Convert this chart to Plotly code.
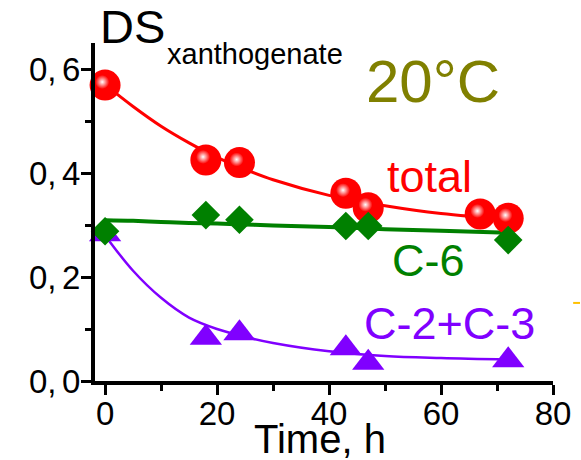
import plotly.graph_objects as go

# ---- data ----
t_total = [0, 18, 24, 43, 47, 67, 72]
ds_total = [0.569, 0.425, 0.420, 0.361, 0.333, 0.321, 0.313]

t_c6 = [0, 18, 24, 43, 47, 72]
ds_c6 = [0.288, 0.319, 0.310, 0.298, 0.298, 0.271]

t_c23 = [0, 18, 24, 43, 47, 72]
ds_c23 = [0.282, 0.083, 0.092, 0.063, 0.035, 0.040]

# fitted curves
fit_t = [0, 5, 10, 15, 20, 25, 30, 40, 50, 60, 72]
fit_total = [0.570, 0.528, 0.490, 0.458, 0.430, 0.407, 0.387, 0.357, 0.337, 0.322, 0.311]
fit_c6 = [0.309, 0.308, 0.306, 0.304, 0.303, 0.301, 0.299, 0.296, 0.292, 0.289, 0.285]
fit_c23 = [0.280, 0.212, 0.160, 0.122, 0.100, 0.085, 0.073, 0.057, 0.048, 0.044, 0.041]

x_ticks = [0, 20, 40, 60, 80]
y_ticks = [0.0, 0.2, 0.4, 0.6]

RED = "#FF0000"
GREEN = "#008000"
PURPLE = "#8000FF"
OLIVE = "#808000"
FONT = "Liberation Sans, Arial, sans-serif"

fig = go.Figure()

# curves
fig.add_trace(go.Scatter(x=fit_t, y=fit_total, mode="lines",
                         line=dict(color=RED, width=3, shape="spline"), hoverinfo="skip"))
fig.add_trace(go.Scatter(x=fit_t, y=fit_c6, mode="lines",
                         line=dict(color=GREEN, width=4, shape="spline"), hoverinfo="skip"))
fig.add_trace(go.Scatter(x=fit_t, y=fit_c23, mode="lines",
                         line=dict(color=PURPLE, width=2.5, shape="spline"), hoverinfo="skip"))

# total: red spheres
fig.add_trace(go.Scatter(x=t_total, y=ds_total, mode="markers", cliponaxis=False,
                         marker=dict(symbol="circle", size=31, color=RED, line=dict(width=0))))
# sphere highlights (small offset up-left)
fig.add_trace(go.Scatter(x=[t - 0.5 for t in t_total], y=[d + 0.006 for d in ds_total],
                         mode="markers", hoverinfo="skip", cliponaxis=False,
                         marker=dict(symbol="circle", size=14, color=RED, line=dict(width=0),
                                     gradient=dict(type="radial", color="white"))))

# C-2+C-3: purple triangles
fig.add_trace(go.Scatter(x=t_c23, y=ds_c23, mode="markers", cliponaxis=False,
                         marker=dict(symbol="triangle-up", size=28, color=PURPLE, line=dict(width=0))))
# C-6: green diamonds
fig.add_trace(go.Scatter(x=t_c6, y=ds_c6, mode="markers", cliponaxis=False,
                         marker=dict(symbol="diamond", size=22, color=GREEN, line=dict(width=0))))

axis_common = dict(showline=True, linecolor="black", linewidth=4, ticks="outside",
                   ticklen=10, tickwidth=3, tickcolor="black", showgrid=False, automargin=False,
                   zeroline=False, tickfont=dict(family=FONT, size=33, color="black"))

fig.update_xaxes(range=[-1.8, 80], tickvals=x_ticks, ticktext=[str(v) for v in x_ticks],
                 ticklabelstandoff=-10,
                 minor=dict(ticks="outside", ticklen=6, tickwidth=3, tickcolor="black", dtick=10, tick0=0),
                 **axis_common)
fig.update_yaxes(range=[0, 0.65], tickvals=y_ticks,
                 ticktext=[f"{v:.1f}".replace(".", ",\u2006") for v in y_ticks],
                 ticklabelstandoff=-6,
                 minor=dict(ticks="outside", ticklen=6, tickwidth=3, tickcolor="black", dtick=0.1, tick0=0),
                 **axis_common)

ann = [
    dict(text="DS", x=0.0066, y=1.049, xref="paper", yref="paper", xanchor="left", yanchor="middle",
         font=dict(family=FONT, size=47, color="black")),
    dict(text="xanthogenate", x=0.153, y=0.968, xref="paper", yref="paper", xanchor="left", yanchor="middle",
         font=dict(family=FONT, size=29, color="black")),
    dict(text="Time, h", x=0.491, y=-0.172, xref="paper", yref="paper", xanchor="center", yanchor="middle",
         font=dict(family=FONT, size=40, color="black")),
    dict(text="20°C", x=58.6, y=0.576, xanchor="center", yanchor="middle",
         font=dict(family=FONT, size=60, color=OLIVE)),
    dict(text="total", x=58.0, y=0.394, xanchor="center", yanchor="middle",
         font=dict(family=FONT, size=45, color=RED)),
    dict(text="C-6", x=57.7, y=0.231, xanchor="center", yanchor="middle",
         font=dict(family=FONT, size=45, color=GREEN)),
    dict(text="C-2+C-3", x=61.6, y=0.110, xanchor="center", yanchor="middle",
         font=dict(family=FONT, size=45, color=PURPLE)),
]
for a in ann:
    a.setdefault("xref", "x")
    a.setdefault("yref", "y")
    a["showarrow"] = False

fig.update_layout(
    width=581, height=460,
    margin=dict(l=95, r=28, t=43, b=79),
    plot_bgcolor="white", paper_bgcolor="white",
    showlegend=False,
    annotations=ann,
    shapes=[dict(type="line", xref="paper", yref="paper", x0=1.044, x1=1.059, y0=0.231, y1=0.231,
                 line=dict(color="#FFC000", width=2))],
)

fig.write_html("out.html", config={"displayModeBar": False},
               post_script="document.body.style.margin='0';document.body.style.overflow='hidden';")
